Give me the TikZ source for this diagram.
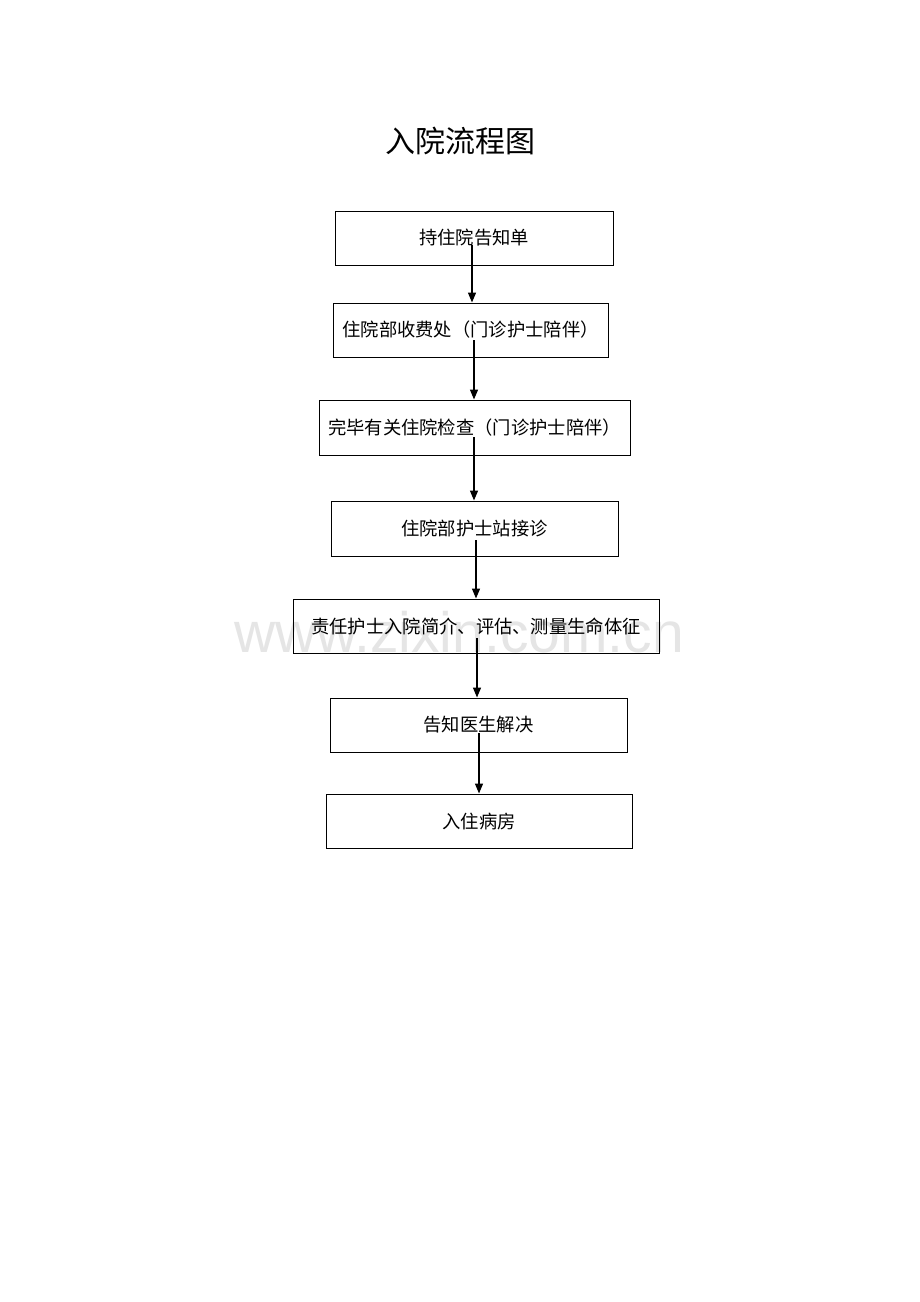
\documentclass[tikz,border=0pt]{standalone}
\usepackage{fontspec}
\newfontfamily\cjk{Noto Sans CJK SC}
\newfontfamily\wmfont{Liberation Sans}
\usetikzlibrary{arrows.meta}
\begin{document}
\begin{tikzpicture}[x=1pt,y=-1pt,
  flowbox/.style={draw=black,line width=1pt,inner sep=0pt,font=\cjk\fontsize{18.3}{21}\selectfont},
  flowarrow/.style={draw=black,line width=1.4pt,-{Triangle[length=10pt,width=8pt]}}]
\useasboundingbox[fill=white] (0,0) rectangle (920,1302);
\node[text=black!10,font=\wmfont\fontsize{57}{60}\selectfont] (wm) at (459,632) {www.zixin.com.cn};
\node[font=\cjk\fontsize{30}{34}\selectfont] (title) at (460,141) {入院流程图};
\node[flowbox,minimum width=278pt,minimum height=54pt] (b1) at (474,238) {持住院告知单};
\node[flowbox,minimum width=275pt,minimum height=54pt] (b2) at (470.5,330) {住院部收费处（门诊护士陪伴）};
\node[flowbox,minimum width=311pt,minimum height=55pt] (b3) at (474.5,427.5) {完毕有关住院检查（门诊护士陪伴）};
\node[flowbox,minimum width=287pt,minimum height=55pt] (b4) at (474.5,528.5) {住院部护士站接诊};
\node[flowbox,minimum width=366pt,minimum height=54pt] (b5) at (476,626) {责任护士入院简介、评估、测量生命体征};
\node[flowbox,minimum width=297pt,minimum height=54pt] (b6) at (478.5,725) {告知医生解决};
\node[flowbox,minimum width=306pt,minimum height=54pt] (b7) at (479,821) {入住病房};
\coordinate (s1) at (472,245);
\coordinate (s2) at (474,340);
\coordinate (s3) at (474,437);
\coordinate (s4) at (476,540);
\coordinate (s5) at (477,638);
\coordinate (s6) at (479,733);
\draw[flowarrow] (s1) -- (s1 |- b2.north);
\draw[flowarrow] (s2) -- (s2 |- b3.north);
\draw[flowarrow] (s3) -- (s3 |- b4.north);
\draw[flowarrow] (s4) -- (s4 |- b5.north);
\draw[flowarrow] (s5) -- (s5 |- b6.north);
\draw[flowarrow] (s6) -- (s6 |- b7.north);
\end{tikzpicture}
\end{document}
